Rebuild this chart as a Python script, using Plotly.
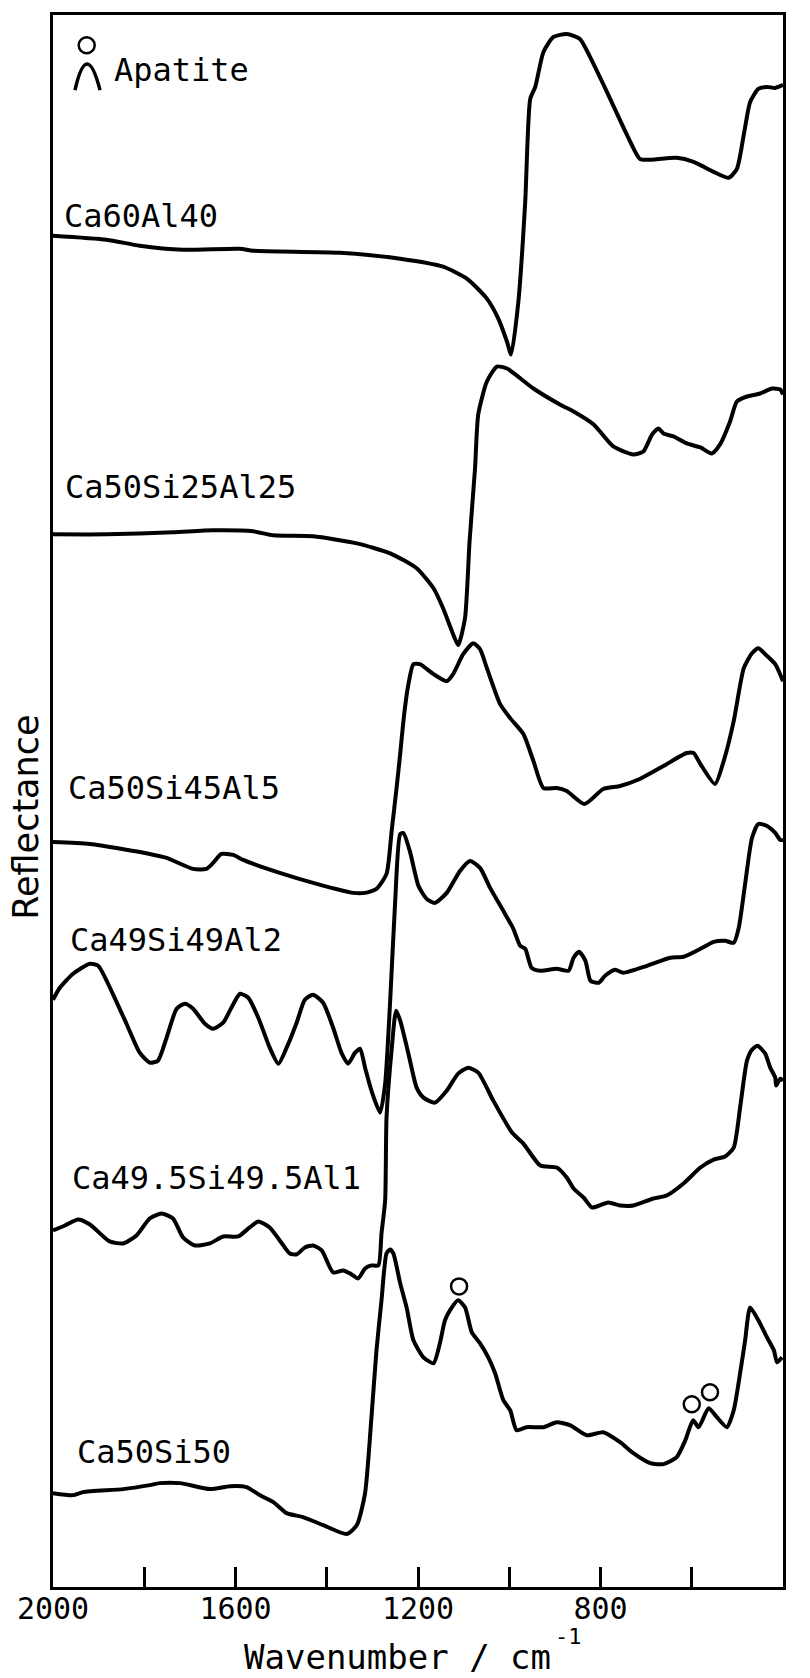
import plotly.graph_objects as go

# Infrared reflectance spectra, stacked (arbitrary units), wavenumber in cm^-1
spec_ca60al40 = [
    (2000, 135.3), (1883, 134.9), (1810, 134.3), (1715, 133.9), (1591, 134.0), (1561, 133.8),
    (1371, 133.6), (1239, 133.0), (1145, 132.2), (1093, 131.0), (1049, 129.0), (1024, 127.0),
    (1005, 124.7), (996, 123.4), (980, 128.7), (965, 138.7), (954, 149.0), (943, 150.2),
    (925, 153.7), (903, 155.2), (874, 155.5), (845, 155.0), (823, 153.2), (786, 149.7),
    (742, 145.4), (714, 143.0), (698, 142.9), (633, 143.1), (596, 142.7), (552, 141.7),
    (519, 141.1), (501, 142.0), (486, 145.4), (472, 148.7), (454, 150.0), (435, 150.2),
    (417, 150.1), (400, 150.4),
]

spec_ca50si25al25 = [
    (2000, 105.4), (1883, 105.4), (1737, 105.6), (1649, 105.8), (1561, 105.7), (1517, 105.3),
    (1430, 105.2), (1334, 104.5), (1261, 103.5), (1203, 102.0), (1166, 100.0), (1145, 98.0),
    (1123, 95.4), (1112, 94.3), (1097, 97.0), (1087, 104.7), (1075, 112.0), (1068, 117.4),
    (1049, 120.7), (1027, 122.2), (1005, 122.0), (947, 120.0), (889, 118.4), (859, 117.7),
    (815, 116.4), (772, 114.2), (728, 113.4), (706, 113.7), (687, 115.4), (673, 116.0),
    (662, 115.5), (640, 115.2), (611, 114.5), (581, 114.1), (556, 113.5), (538, 114.4),
    (516, 116.7), (501, 118.7), (479, 119.2), (450, 119.5), (424, 120.0), (406, 119.9),
    (400, 119.4),
]

spec_ca50si45al5 = [
    (2000, 74.6), (1919, 74.4), (1788, 73.4), (1751, 73.0), (1693, 71.9), (1664, 71.9),
    (1649, 72.5), (1631, 73.4), (1605, 73.3), (1583, 72.8), (1503, 71.5), (1422, 70.4),
    (1342, 69.5), (1316, 69.5), (1291, 69.9), (1269, 71.4), (1258, 75.6), (1247, 80.0),
    (1240, 83.0), (1230, 87.5), (1221, 90.4), (1210, 92.4), (1196, 92.4), (1166, 91.4),
    (1137, 90.7), (1123, 91.4), (1101, 93.4), (1079, 94.5), (1064, 93.9), (1049, 92.0),
    (1020, 88.4), (998, 87.0), (969, 85.4), (947, 82.7), (925, 80.0), (896, 80.0),
    (874, 79.7), (835, 78.4), (794, 79.9), (757, 80.2), (714, 80.9), (662, 82.2),
    (611, 83.5), (596, 83.5), (581, 82.4), (549, 80.4), (530, 82.7), (508, 86.7),
    (486, 92.0), (468, 93.5), (454, 94.0), (439, 93.4), (417, 92.4), (400, 90.7),
]

spec_ca49si49al2 = [
    (2000, 58.8), (1985, 60.0), (1956, 61.4), (1919, 62.4), (1901, 62.2), (1872, 59.7),
    (1839, 56.4), (1810, 53.5), (1788, 52.5), (1770, 52.7), (1751, 55.0), (1729, 57.9),
    (1711, 58.4), (1693, 57.9), (1667, 56.4), (1649, 55.9), (1627, 56.5), (1609, 58.0),
    (1590, 59.4), (1572, 59.0), (1550, 57.0), (1525, 54.0), (1506, 52.4), (1488, 54.0),
    (1466, 56.5), (1448, 58.8), (1430, 59.3), (1408, 58.5), (1386, 56.0), (1367, 53.4),
    (1353, 52.4), (1338, 53.5), (1327, 53.9), (1316, 52.0), (1302, 49.7), (1283, 47.5),
    (1272, 50.4), (1261, 58.7), (1250, 68.7), (1239, 75.4), (1232, 75.5), (1218, 73.7),
    (1199, 70.2), (1181, 68.9), (1163, 68.5), (1137, 69.5), (1108, 71.7), (1086, 72.7),
    (1064, 72.0), (1042, 70.0), (1013, 67.7), (991, 65.9), (976, 64.2), (965, 63.9),
    (951, 62.0), (932, 61.7), (896, 61.9), (870, 61.7), (859, 63.0), (847, 63.6),
    (833, 62.7), (822, 60.7), (804, 60.5), (790, 61.2), (768, 61.8), (750, 61.5),
    (698, 62.2), (647, 63.0), (618, 63.1), (581, 63.9), (552, 64.6), (527, 64.7),
    (508, 64.5), (497, 66.0), (483, 70.4), (468, 75.0), (454, 76.4), (435, 76.2),
    (417, 75.5), (406, 74.8), (400, 74.8),
]

spec_ca495si495al1 = [
    (2000, 35.7), (1974, 36.2), (1945, 36.8), (1919, 36.3), (1876, 34.6), (1846, 34.4),
    (1817, 35.2), (1788, 36.9), (1762, 37.4), (1737, 36.9), (1715, 35.0), (1689, 34.2),
    (1656, 34.4), (1627, 35.1), (1594, 35.1), (1569, 36.0), (1550, 36.6), (1525, 36.0),
    (1503, 34.7), (1481, 33.4), (1466, 33.3), (1448, 34.0), (1430, 34.2), (1411, 33.7),
    (1386, 31.5), (1364, 31.7), (1349, 31.4), (1331, 30.9), (1316, 31.9), (1302, 32.2),
    (1287, 32.2), (1280, 35.4), (1272, 38.7), (1269, 47.0), (1258, 53.7), (1248, 57.7),
    (1239, 56.7), (1221, 53.4), (1203, 50.0), (1188, 49.0), (1163, 48.5), (1137, 49.7),
    (1112, 51.4), (1090, 52.0), (1068, 51.5), (1035, 48.7), (994, 45.5), (969, 44.4),
    (932, 42.2), (896, 42.0), (874, 41.0), (859, 39.9), (837, 39.0), (819, 38.0),
    (808, 38.1), (783, 38.5), (757, 38.2), (728, 38.2), (684, 38.9), (655, 39.2),
    (618, 40.4), (581, 42.0), (552, 42.8), (527, 43.1), (508, 44.0), (494, 48.0),
    (479, 52.7), (468, 53.8), (456, 54.2), (439, 53.4), (428, 52.0), (417, 51.0),
    (415, 50.2), (406, 50.9), (400, 50.7),
]

spec_ca50si50 = [
    (2000, 9.4), (1956, 9.2), (1934, 9.5), (1846, 9.8), (1788, 10.2), (1766, 10.4),
    (1722, 10.4), (1656, 9.8), (1612, 10.1), (1576, 10.0), (1547, 9.2), (1517, 8.5),
    (1488, 7.4), (1452, 7.0), (1408, 6.2), (1356, 5.3), (1334, 6.2), (1316, 9.4),
    (1302, 17.0), (1291, 23.7), (1280, 28.7), (1269, 33.4), (1261, 33.8), (1254, 33.4),
    (1239, 30.4), (1225, 28.0), (1210, 24.7), (1188, 23.0), (1166, 22.4), (1152, 24.4),
    (1141, 26.7), (1130, 27.7), (1112, 28.7), (1097, 28.0), (1082, 25.5), (1064, 24.4),
    (1046, 23.0), (1031, 21.4), (1013, 18.7), (998, 17.7), (984, 15.7), (962, 16.0),
    (925, 16.0), (896, 16.5), (867, 16.2), (830, 15.2), (794, 15.5), (757, 14.5),
    (728, 13.4), (691, 12.4), (662, 12.3), (633, 13.0), (614, 14.7), (597, 16.7),
    (585, 16.0), (563, 17.9), (545, 17.0), (523, 16.0), (508, 17.7), (494, 21.4),
    (483, 24.7), (472, 28.0), (454, 26.7), (435, 25.0), (420, 23.7), (413, 22.5),
    (402, 23.0),
]

sample_names = ["Ca60Al40", "Ca50Si25Al25", "Ca50Si45Al5",
                "Ca49Si49Al2", "Ca49.5Si49.5Al1", "Ca50Si50"]
spectra = [spec_ca60al40, spec_ca50si25al25, spec_ca50si45al5,
           spec_ca49si49al2, spec_ca495si495al1, spec_ca50si50]

# Apatite bands marked on the Ca50Si50 spectrum
apatite_wn = [1110, 600, 560]
apatite_y = [30.1, 18.3, 19.5]

tick_values = [2000, 1800, 1600, 1400, 1200, 1000, 800, 600, 400]
tick_labels = ["2000", "", "1600", "", "1200", "", "800", "", "400"]

MONO = "DejaVu Sans Mono"

fig = go.Figure()
for name, spec in zip(sample_names, spectra):
    fig.add_trace(go.Scatter(
        x=[p[0] for p in spec], y=[p[1] for p in spec], name=name,
        mode="lines", line=dict(color="black", width=4, shape="spline", smoothing=0.6),
        hoverinfo="skip",
    ))

fig.add_trace(go.Scatter(
    x=apatite_wn, y=apatite_y, mode="markers", name="Apatite",
    marker=dict(symbol="circle-open", size=16, color="black", line=dict(width=2.5, color="black")),
    hoverinfo="skip",
))

# sample labels, left-aligned above each trace
label_pos = [(1981, 137.3), (1977, 110.1), (1971, 80.0), (1967, 64.8), (1963, 41.0), (1952, 13.5)]
for name, (lx, ly) in zip(sample_names, label_pos):
    fig.add_annotation(x=lx, y=ly, xref="x", yref="y", text=name, showarrow=False,
                       xanchor="left", yanchor="middle",
                       font=dict(family=MONO, size=32, color="black"))

# legend glyph: circle above a band peak
fig.add_shape(type="circle", xref="paper", yref="paper",
              x0=0.0352, x1=0.0571, y0=0.9757, y1=0.9858,
              line=dict(color="black", width=2.5))
fig.add_shape(type="path", xref="paper", yref="paper",
              path="M 0.0301,0.9522 Q 0.0462,0.9856 0.0644,0.9522",
              line=dict(color="black", width=3.5))
fig.add_annotation(x=0.0804, y=0.9647, xref="paper", yref="paper", text="Apatite",
                   showarrow=False, xanchor="left", yanchor="middle",
                   font=dict(family=MONO, size=32, color="black"))

# axis titles
fig.add_annotation(x=-0.037, y=0.49, xref="paper", yref="paper", text="Reflectance",
                   textangle=-90, showarrow=False, xanchor="center", yanchor="middle",
                   font=dict(family="DejaVu Sans", size=35, color="black"))
fig.add_annotation(x=0.472, y=-0.0445, xref="paper", yref="paper", text="Wavenumber / cm",
                   showarrow=False, xanchor="center", yanchor="middle",
                   font=dict(family=MONO, size=34, color="black"))
fig.add_annotation(x=0.7055, y=-0.0318, xref="paper", yref="paper", text="-1",
                   showarrow=False, xanchor="center", yanchor="middle", borderpad=0,
                   font=dict(family=MONO, size=22, color="black"))

fig.update_layout(
    width=810, height=1678,
    margin=dict(l=53, r=27, t=13, b=91),
    plot_bgcolor="white", paper_bgcolor="white",
    showlegend=False,
)
fig.update_xaxes(
    range=[2000, 400], tickvals=tick_values, ticktext=tick_labels,
    ticks="inside", ticklen=20, tickwidth=3, tickcolor="black",
    showline=True, linewidth=3, linecolor="black", mirror=True,
    showgrid=False, zeroline=False, ticklabelstandoff=-7,
    tickfont=dict(family=MONO, size=30, color="black"),
)
fig.update_yaxes(
    range=[0, 157.4], showticklabels=False, ticks="",
    showline=True, linewidth=3, linecolor="black", mirror=True,
    showgrid=False, zeroline=False,
)

fig.write_html("out.html")
